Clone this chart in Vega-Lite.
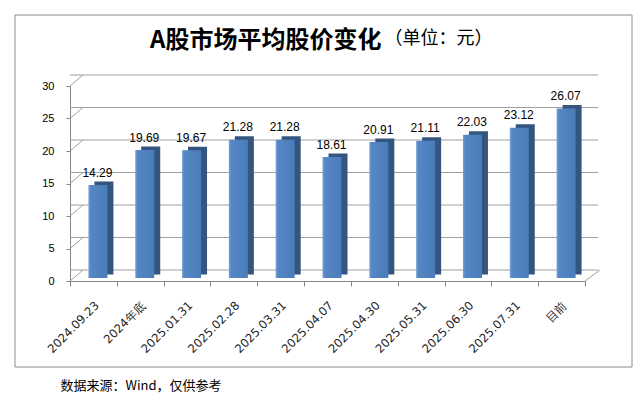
{
  "$schema": "https://vega.github.io/schema/vega-lite/v6.json",
  "width": 515,
  "height": 195,
  "autosize": {"type": "none"},
  "padding": {"left": 70, "top": 86, "right": 59, "bottom": 116},
  "background": "white",
  "title": {
    "text": "A股市场平均股价变化",
    "anchor": "start",
    "frame": "group",
    "dx": 80,
    "offset": -38,
    "fontSize": 24,
    "fontWeight": "bold",
    "font": "Noto Sans CJK SC",
    "color": "#000000"
  },
  "config": {
    "view": {"stroke": null},
    "axisQuantitative": {"tickCount": 7, "labelOverlap": false}
  },
  "datasets": {
    "prices": [
      {"date": "2024.09.23", "price": 14.29},
      {"date": "2024年底", "price": 19.69},
      {"date": "2025.01.31", "price": 19.67},
      {"date": "2025.02.28", "price": 21.28},
      {"date": "2025.03.31", "price": 21.28},
      {"date": "2025.04.07", "price": 18.61},
      {"date": "2025.04.30", "price": 20.91},
      {"date": "2025.05.31", "price": 21.11},
      {"date": "2025.06.30", "price": 22.03},
      {"date": "2025.07.31", "price": 23.12},
      {"date": "目前", "price": 26.07}
    ],
    "grid": [{"v": 0}, {"v": 5}, {"v": 10}, {"v": 15}, {"v": 20}, {"v": 25}, {"v": 30}],
    "floor": [{"v": 0}]
  },
  "layer": [
    {
      "data": {"name": "floor"},
      "mark": {"type": "rect", "fill": null, "stroke": "#8c8c8c", "strokeWidth": 1, "xOffset": -55, "x2Offset": 47, "yOffset": -71, "y2Offset": 86},
      "encoding": {
        "x": {"datum": "2024.09.23", "type": "nominal", "bandPosition": 0},
        "x2": {"datum": "目前", "bandPosition": 1},
        "y": {"datum": 30, "type": "quantitative"},
        "y2": {"datum": 0}
      }
    },
    {
      "data": {"name": "grid"},
      "mark": {"type": "rule", "color": "#a0a0a0", "strokeWidth": 1, "xOffset": 13, "yOffset": -11},
      "encoding": {
        "y": {"field": "v", "type": "quantitative"}
      }
    },
    {
      "data": {"name": "grid"},
      "mark": {"type": "rule", "color": "#a0a0a0", "strokeWidth": 1, "x2Offset": 13, "y2Offset": -11},
      "encoding": {
        "x": {"datum": "2024.09.23", "type": "nominal", "bandPosition": 0},
        "x2": {"datum": "2024.09.23", "bandPosition": 0},
        "y": {"field": "v", "type": "quantitative"},
        "y2": {"field": "v"}
      }
    },
    {
      "data": {"name": "floor"},
      "mark": {"type": "rule", "color": "#a0a0a0", "strokeWidth": 1, "x2Offset": 15, "y2Offset": -11},
      "encoding": {
        "x": {"datum": "目前", "type": "nominal", "bandPosition": 1},
        "x2": {"datum": "目前", "bandPosition": 1},
        "y": {"field": "v", "type": "quantitative"},
        "y2": {"field": "v"}
      }
    },
    {
      "data": {"name": "prices"},
      "mark": {"type": "bar", "width": 19, "color": "#33557f", "xOffset": 10.5, "yOffset": -6.5},
      "encoding": {
        "x": {"field": "date", "type": "nominal", "sort": null},
        "y": {"field": "price", "type": "quantitative"}
      }
    },
    {
      "data": {"name": "prices"},
      "mark": {
        "type": "bar",
        "width": 19,
        "xOffset": 4.5,
        "yOffset": -3,
        "color": {
          "gradient": "linear",
          "x1": 0, "x2": 1, "y1": 0, "y2": 0,
          "stops": [
            {"offset": 0, "color": "#7aa3d6"},
            {"offset": 0.12, "color": "#5587c4"},
            {"offset": 1, "color": "#4a7cb9"}
          ]
        }
      },
      "encoding": {
        "x": {
          "field": "date",
          "type": "nominal",
          "sort": null,
          "scale": {
            "domain": ["2024.09.23", "2024年底", "2025.01.31", "2025.02.28", "2025.03.31", "2025.04.07", "2025.04.30", "2025.05.31", "2025.06.30", "2025.07.31", "目前"],
            "paddingInner": 0,
            "paddingOuter": 0
          },
          "axis": {
            "title": "数据来源：Wind，仅供参考",
            "titleX": -10,
            "titleY": 104,
            "titleAlign": "left",
            "titleAnchor": "start",
            "titleBaseline": "middle",
            "titleFont": "Noto Sans CJK SC",
            "titleFontSize": 13,
            "titleFontWeight": "normal",
            "titleColor": "#000000",
            "labelAngle": -45,
            "labelAlign": "right",
            "labelBaseline": "middle",
            "labelFont": "DejaVu Sans",
            "labelFontSize": 11.7,
            "labelColor": "#222222",
            "labelPadding": 17,
            "labelOffset": 3,
            "labelOverlap": false,
            "tickBand": "extent",
            "tickSize": 5,
            "tickColor": "#868686",
            "domainColor": "#868686",
            "grid": false
          }
        },
        "y": {
          "field": "price",
          "type": "quantitative",
          "scale": {"domain": [0, 30], "nice": false, "zero": true},
          "axis": {
            "title": "（单位：元）",
            "titleAngle": 0,
            "titleX": 314,
            "titleY": -39,
            "titleAlign": "left",
            "titleBaseline": "bottom",
            "titleFont": "Noto Sans CJK SC",
            "titleFontSize": 18,
            "titleFontWeight": "normal",
            "titleColor": "#000000",
            "values": [0, 5, 10, 15, 20, 25, 30],
            "tickCount": 7,
            "labelOverlap": false,
            "labelFont": "Liberation Sans",
            "labelFontSize": 11,
            "labelColor": "#000000",
            "labelPadding": 12,
            "tickSize": 4,
            "tickColor": "#868686",
            "domainColor": "#868686",
            "grid": false
          }
        }
      }
    },
    {
      "data": {"name": "prices"},
      "mark": {"type": "text", "font": "Liberation Sans", "fontSize": 12, "color": "#000000", "baseline": "middle", "dy": -15.5, "xOffset": 4},
      "encoding": {
        "x": {"field": "date", "type": "nominal", "sort": null},
        "y": {"field": "price", "type": "quantitative"},
        "text": {"field": "price", "type": "quantitative", "format": ".2f"}
      }
    }
  ]
}
